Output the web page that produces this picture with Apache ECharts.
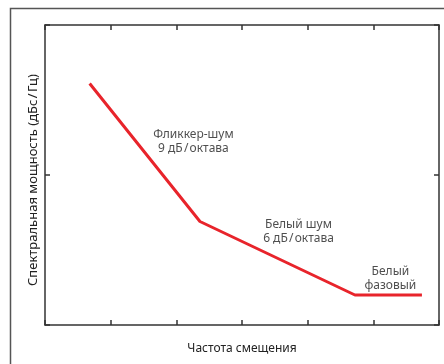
<!DOCTYPE html>
<html>
<head>
<meta charset="utf-8">
<script src="https://cdn.jsdelivr.net/npm/echarts@6/dist/echarts.min.js"></script>
<style>
html,body{margin:0;padding:0;background:#fff;}
#c{width:444px;height:364px;}
</style>
</head>
<body>
<div id="c"></div>
<script>
// Piecewise phase-noise curve (arbitrary units)
var xValues = [0.68, 2.36, 4.72, 5.74];
var yValues = [1.61, 0.69, 0.20, 0.20];
var xAxisName = 'Частота смещения';
var yAxisName = 'Спектральная мощность (дБс\u200A/\u200AГц)';
var annotations = [
  { x: 2.26, y: 1.22, text: 'Фликкер-шум\n9 дБ\u200A/\u200Aоктава' },
  { x: 3.86, y: 0.62, text: 'Белый шум\n6 дБ\u200A/\u200Aоктава' },
  { x: 5.26, y: 0.31, text: 'Белый\nфазовый' }
];

var FONT = '"Noto Sans", "DejaVu Sans", sans-serif';
var chart = echarts.init(document.getElementById('c'));
var lineData = xValues.map(function (x, i) { return [x, yValues[i]]; });
var axisLine = { show: true, onZero: false, lineStyle: { color: '#333', width: 1.5 } };
var tick = { show: true, inside: true, length: 5, lineStyle: { color: '#333', width: 1.5 } };

chart.setOption({
  animation: false,
  backgroundColor: '#fff',
  grid: { left: 45, right: 5, top: 25, bottom: 39 },
  graphic: [
    { type: 'polyline', silent: true, z: -1,
      shape: { points: [[10.5, 364], [10.5, 8.5], [444, 8.5]] },
      style: { stroke: '#555', lineWidth: 1.5, fill: null } }
  ],
  xAxis: [
    { type: 'value', min: 0, max: 6, interval: 1,
      axisLine: axisLine, axisTick: tick, axisLabel: { show: false }, splitLine: { show: false },
      name: xAxisName, nameLocation: 'middle', nameGap: 18,
      nameTextStyle: { fontFamily: FONT, fontSize: 12, color: '#222' } },
    { type: 'value', position: 'top', min: 0, max: 6, interval: 1,
      axisLine: axisLine, axisTick: tick, axisLabel: { show: false }, splitLine: { show: false } }
  ],
  yAxis: [
    { type: 'value', min: 0, max: 2, interval: 1,
      axisLine: axisLine, axisTick: tick, axisLabel: { show: false }, splitLine: { show: false },
      name: yAxisName, nameLocation: 'middle', nameGap: 5, nameRotate: 90,
      nameTextStyle: { fontFamily: FONT, fontSize: 13, color: '#222', padding: [0, 0, 0, -10] } },
    { type: 'value', position: 'right', min: 0, max: 2, interval: 1,
      axisLine: axisLine, axisTick: tick, axisLabel: { show: false }, splitLine: { show: false } }
  ],
  series: [
    { type: 'line', data: lineData, symbol: 'none',
      lineStyle: { color: '#e8242b', width: 3 }, z: 3 },
    { type: 'scatter', symbolSize: 0, silent: true,
      data: annotations.map(function (a) { return { value: [a.x, a.y], name: a.text }; }),
      label: { show: true, position: 'inside', formatter: function (p) { return p.name; },
        fontFamily: FONT, fontSize: 12, color: '#222', lineHeight: 14, align: 'center' } }
  ]
});
</script>
</body>
</html>
